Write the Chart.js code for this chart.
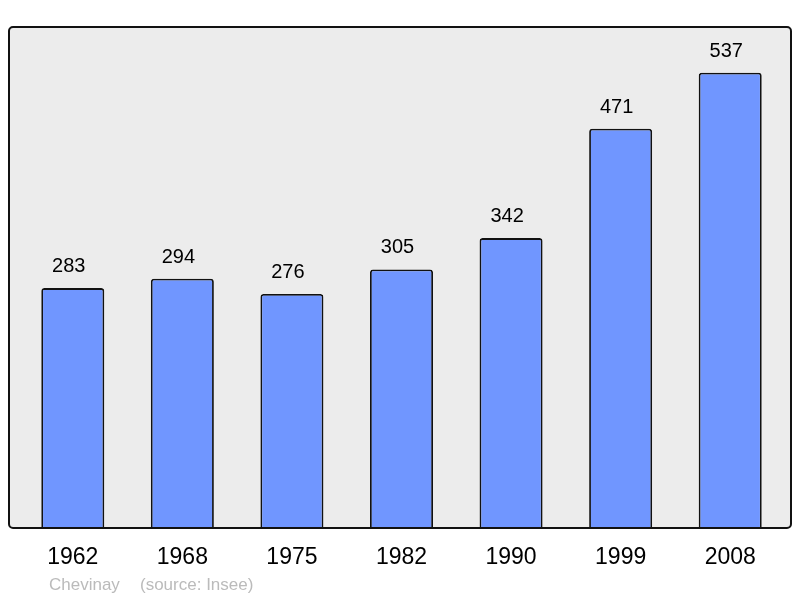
<!DOCTYPE html>
<html lang="fr">
<head>
  <meta charset="UTF-8">
  <title>Chevinay - population</title>
  <style>
    html, body { margin: 0; padding: 0; background: #ffffff; }
    #wrap { width: 800px; height: 598px; position: relative; }
  </style>
</head>
<body>
  <div id="wrap"><canvas id="popChart"></canvas></div>
  <script src="https://cdn.jsdelivr.net/npm/chart.js"></script>
  <script>
    // population data
    const years = ['1962', '1968', '1975', '1982', '1990', '1999', '2008'];
    const population = [283, 294, 276, 305, 342, 471, 537];
    const townName = 'Chevinay';
    const sourceNote = '(source: Insee)';

    // grey framed box behind the bars, and the footer line
    const frame = {
      id: 'frame',
      beforeDatasetsDraw(chart) {
        const ctx = chart.ctx;
        ctx.save();
        ctx.beginPath();
        ctx.roundRect(9, 27, 782, 501, 4);
        ctx.fillStyle = '#ececec';
        ctx.fill();
        ctx.restore();
      },
      afterDatasetsDraw(chart) {
        const ctx = chart.ctx;
        ctx.save();
        ctx.beginPath();
        ctx.roundRect(9, 27, 782, 501, 4);
        ctx.lineWidth = 2;
        ctx.strokeStyle = '#111111';
        ctx.stroke();
        ctx.font = '17px "Liberation Sans", Arial, sans-serif';
        ctx.fillStyle = '#bbbbbb';
        ctx.textBaseline = 'alphabetic';
        ctx.fillText(townName, 49, 590);
        ctx.fillText(sourceNote, 140, 590);
        ctx.restore();
      }
    };

    // value written above each bar
    const valueLabels = {
      id: 'valueLabels',
      afterDatasetsDraw(chart) {
        const ctx = chart.ctx;
        const meta = chart.getDatasetMeta(0);
        ctx.save();
        ctx.font = '20px "Liberation Sans", Arial, sans-serif';
        ctx.fillStyle = '#000000';
        ctx.textAlign = 'center';
        ctx.textBaseline = 'alphabetic';
        meta.data.forEach((bar, i) => {
          ctx.fillText(String(population[i]), bar.x - 4, bar.y - 16);
        });
        ctx.restore();
      }
    };

    new Chart(document.getElementById('popChart'), {
      type: 'bar',
      data: {
        labels: years,
        datasets: [{
          data: population,
          backgroundColor: '#7096ff',
          borderColor: '#111111',
          borderWidth: 1.8,
          borderRadius: { topLeft: 3, topRight: 3, bottomLeft: 0, bottomRight: 0 },
          borderSkipped: 'bottom',
          barPercentage: 0.575,
          categoryPercentage: 1
        }]
      },
      options: {
        responsive: true,
        maintainAspectRatio: false,
        animation: false,
        layout: { padding: { top: 27, left: 18, right: 15, bottom: 0 } },
        plugins: {
          legend: { display: false },
          tooltip: { enabled: false }
        },
        scales: {
          x: {
            grid: { display: false },
            border: { display: false },
            ticks: {
              color: '#000000',
              font: { family: '"Liberation Sans", Arial, sans-serif', size: 23 },
              padding: 8,
              maxRotation: 0
            },
            afterFit(scale) { scale.height = 70; }
          },
          y: {
            display: false,
            min: 0,
            max: 591
          }
        }
      },
      plugins: [frame, valueLabels]
    });
  </script>
</body>
</html>
